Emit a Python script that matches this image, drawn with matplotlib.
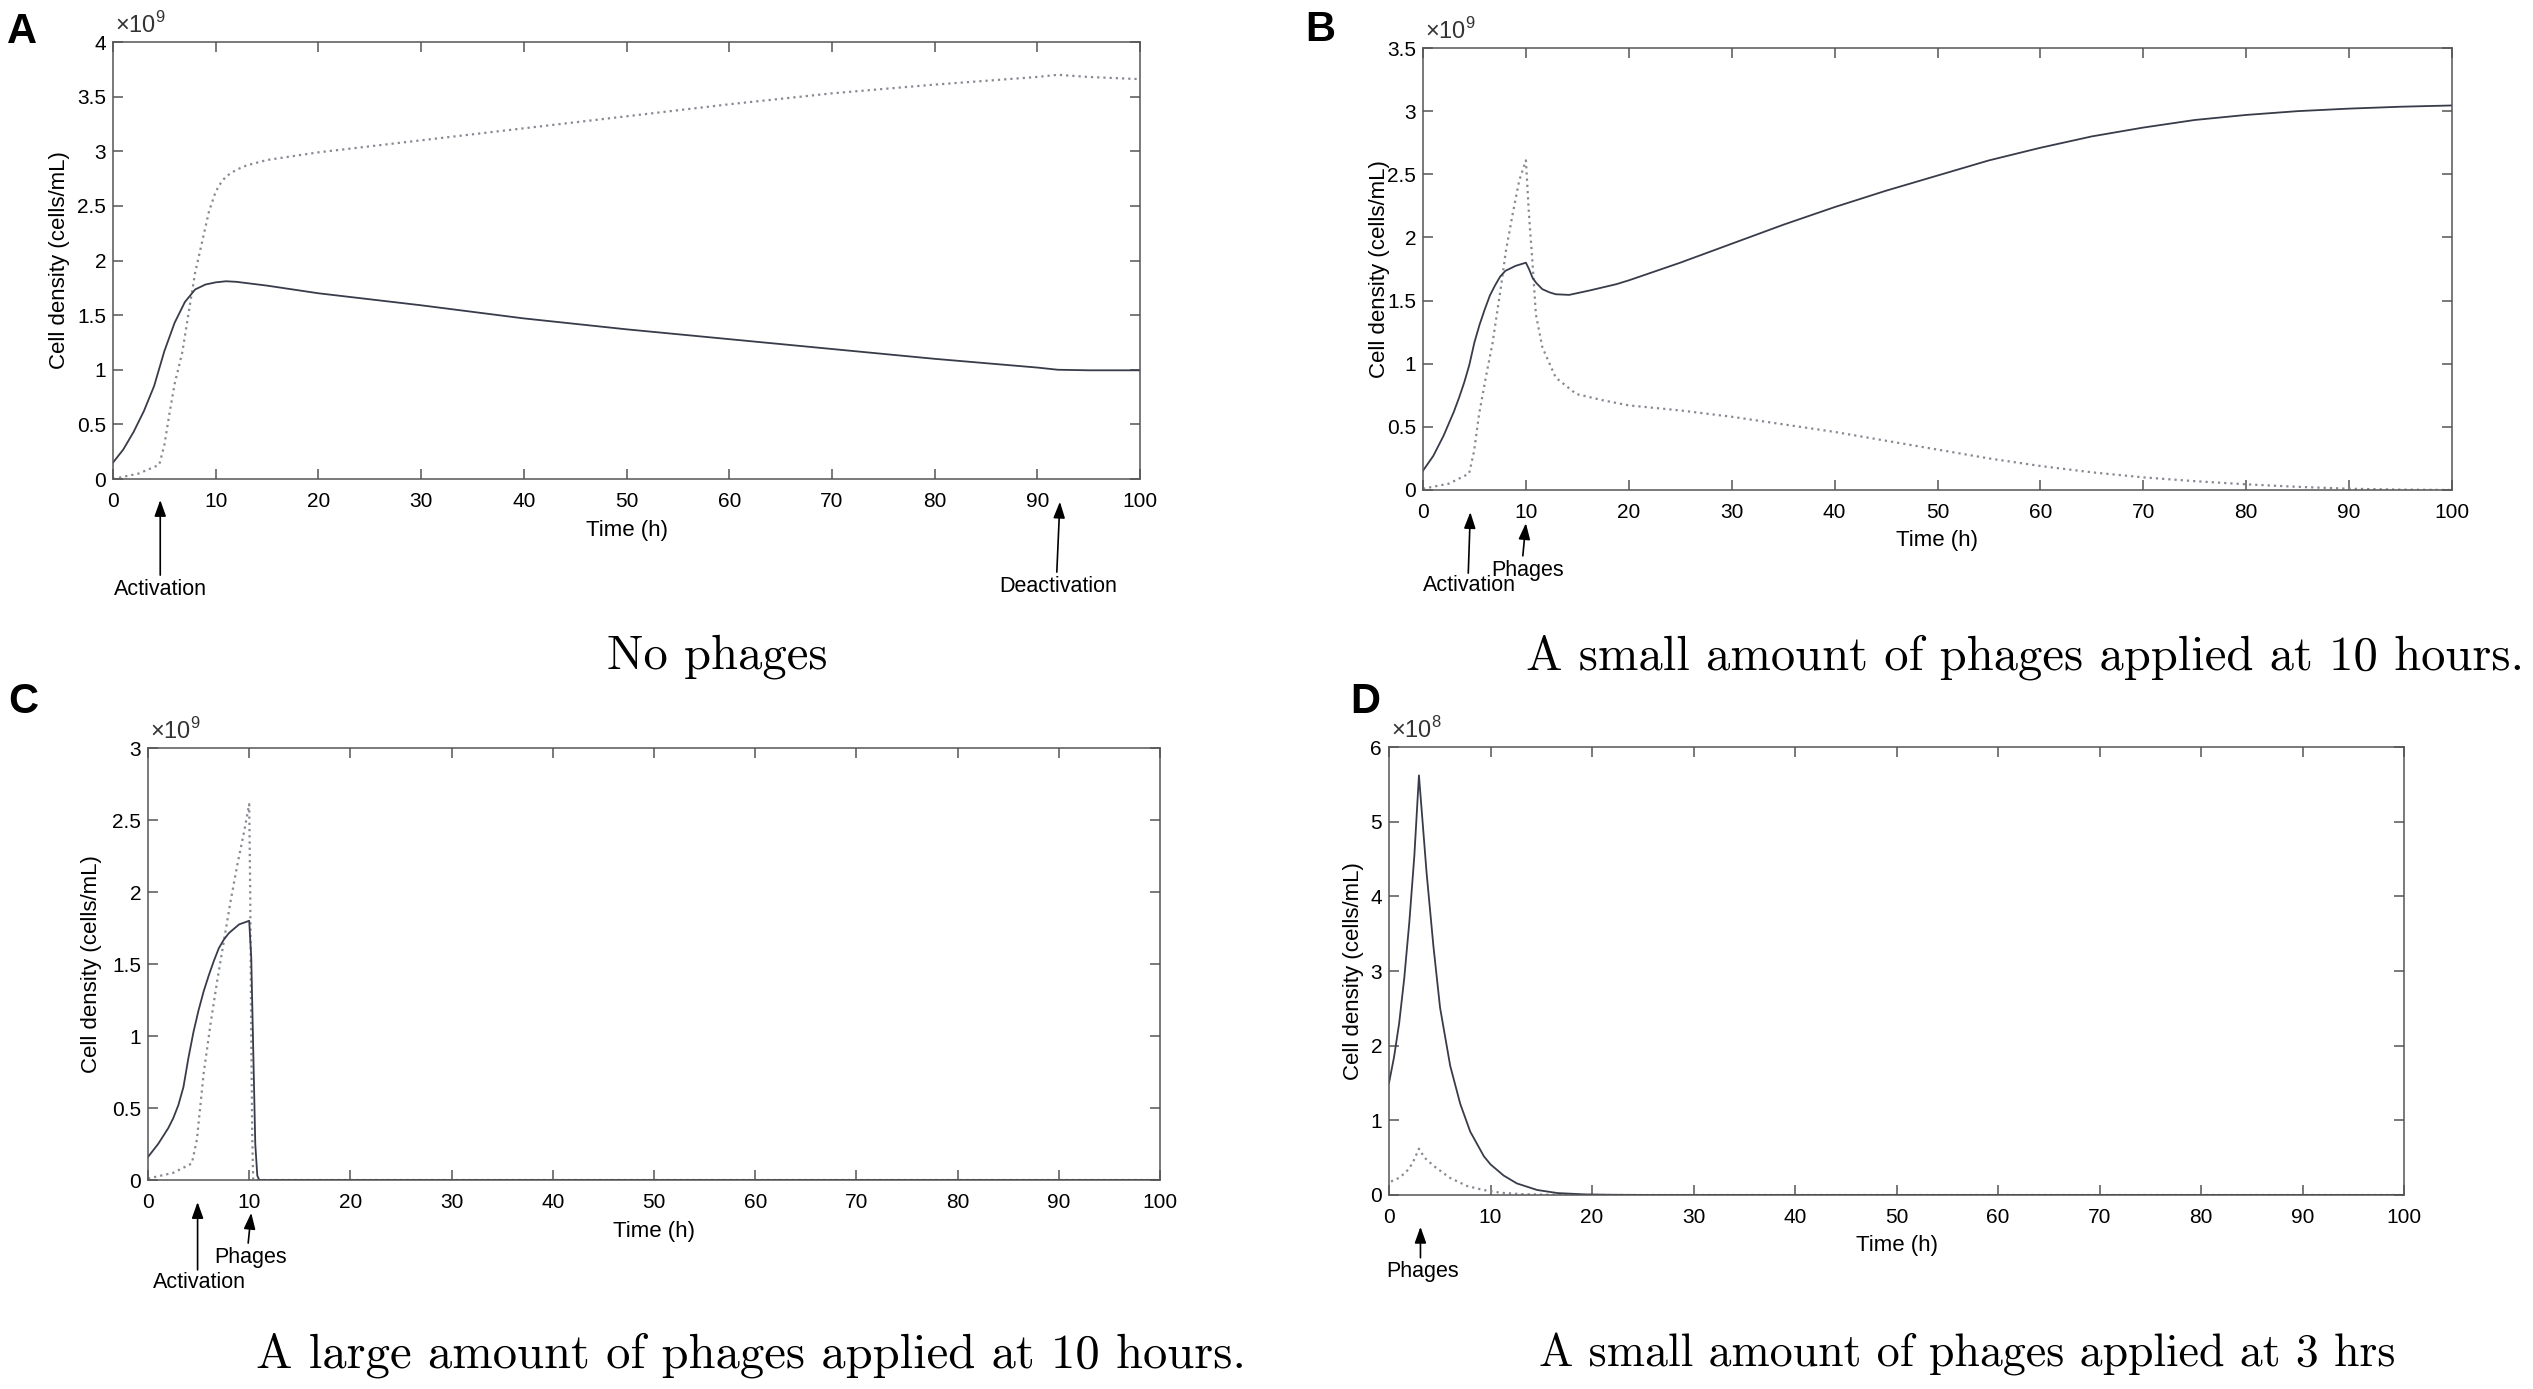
import matplotlib
matplotlib.use('Agg')
import matplotlib.pyplot as plt
from matplotlib.ticker import FuncFormatter, MultipleLocator

plt.rcParams['font.family'] = ['Liberation Sans', 'DejaVu Sans']
plt.rcParams['mathtext.fontset'] = 'custom'
plt.rcParams['mathtext.rm'] = 'Liberation Sans'

W, H = 2533, 1389

# ---- data (cell densities, A-C in 1e9 cells/mL, D in 1e8 cells/mL) ----
tA_solid = [0, 1, 2, 3, 4, 5, 6, 7, 8, 9, 10, 11, 12, 15, 20, 30, 40, 50, 60, 70, 80, 85, 90, 92, 95, 100]
A_solid = [0.15, 0.27, 0.43, 0.62, 0.85, 1.17, 1.43, 1.62, 1.735, 1.78, 1.80, 1.81, 1.805, 1.77, 1.70,
           1.59, 1.47, 1.37, 1.28, 1.19, 1.10, 1.06, 1.02, 1.00, 0.995, 0.995]
tA_dot = [0, 2.5, 4.5, 5, 5.5, 6, 6.75, 7.5, 8, 8.7, 9.35, 10, 10.5, 11, 12, 13, 15, 20, 30, 40, 50,
          60, 70, 80, 90, 92, 95, 100]
A_dot = [0, 0.05, 0.13, 0.31, 0.6, 0.87, 1.16, 1.6, 1.89, 2.18, 2.45, 2.63, 2.71, 2.77, 2.83, 2.87,
         2.92, 2.99, 3.10, 3.21, 3.32, 3.43, 3.53, 3.61, 3.68, 3.70, 3.68, 3.66]

tB_solid = [0, 1, 2, 3, 3.5, 4, 4.5, 5, 5.5, 6, 6.5, 7, 7.5, 8, 9, 10, 10.3, 10.65, 11, 11.6, 12.3, 12.9,
            14.2, 16.2, 18.8, 20, 25, 30, 35, 40, 45, 50, 55, 60, 65, 70, 75, 80, 85, 90, 95, 100]
B_solid = [0.153, 0.27, 0.43, 0.62, 0.73, 0.85, 0.99, 1.17, 1.31, 1.43, 1.54, 1.62, 1.69, 1.735, 1.775,
           1.80, 1.75, 1.68, 1.64, 1.59, 1.565, 1.55, 1.545, 1.58, 1.63, 1.66, 1.80, 1.95, 2.10, 2.24,
           2.37, 2.49, 2.61, 2.71, 2.80, 2.87, 2.93, 2.97, 3.00, 3.02, 3.035, 3.045]
tB_dot = [0, 2.5, 4.48, 4.97, 5.45, 6.1, 6.75, 7.56, 8.05, 8.7, 9.35, 10, 10.3, 10.65, 10.97, 11.6,
          12.9, 14.9, 17.5, 20, 25, 30, 35, 40, 45, 50, 55, 60, 65, 70, 75, 80, 85, 90, 95, 100]
B_dot = [0.01, 0.05, 0.13, 0.31, 0.6, 0.89, 1.16, 1.6, 1.89, 2.18, 2.45, 2.61, 2.18, 1.79, 1.39, 1.13,
         0.89, 0.76, 0.71, 0.67, 0.63, 0.58, 0.52, 0.46, 0.39, 0.32, 0.25, 0.19, 0.14, 0.10, 0.07,
         0.045, 0.025, 0.01, 0.003, 0.0]

tC_solid = [0, 1, 2, 2.5, 3, 3.5, 4, 4.5, 5, 5.5, 6, 6.5, 7, 7.5, 8, 9, 10, 10.2, 10.4, 10.6, 10.8, 11, 100]
C_solid = [0.16, 0.25, 0.36, 0.43, 0.52, 0.645, 0.85, 1.03, 1.18, 1.31, 1.42, 1.52, 1.61, 1.67, 1.715,
           1.775, 1.80, 1.55, 0.9, 0.25, 0.03, 0.0, 0.0]
tC_dot = [0, 2.5, 4.33, 4.83, 5.5, 6.17, 6.83, 7.5, 8.17, 8.83, 9.5, 10, 10.1, 10.2, 10.3, 10.4, 100]
C_dot = [0.01, 0.05, 0.115, 0.28, 0.74, 1.08, 1.38, 1.66, 1.94, 2.19, 2.42, 2.61, 2.0, 1.0, 0.3, 0.0, 0.0]

tD_solid = [0, 0.5, 1, 1.5, 2, 2.5, 2.95, 3.7, 4.37, 5.03, 6.03, 7.02, 8, 9.34, 10, 11.3, 12.6, 14.6,
            16.6, 19.3, 22, 25, 30, 100]
D_solid = [1.5, 1.85, 2.3, 2.9, 3.65, 4.55, 5.62, 4.32, 3.34, 2.51, 1.73, 1.22, 0.85, 0.52, 0.41, 0.26,
           0.155, 0.067, 0.026, 0.008, 0.003, 0.001, 0.0, 0.0]
tD_dot = [0.2, 0.5, 1, 1.7, 2.3, 2.95, 3.5, 4.4, 6, 7.7, 9.3, 11, 13, 16, 20, 100]
D_dot = [0.18, 0.2, 0.23, 0.31, 0.42, 0.62, 0.5, 0.39, 0.23, 0.12, 0.067, 0.03, 0.012, 0.003, 0.0, 0.0]

panels = [
    # letter, axes box (px: left, top, right, bottom), ymax, exponent, series, ylabel offset px
    ('A', (113, 42, 1140, 479), 4, 9, (tA_solid, A_solid), (tA_dot, A_dot), -53),
    ('B', (1423, 48, 2452, 490), 3.5, 9, (tB_solid, B_solid), (tB_dot, B_dot), -44),
    ('C', (148, 748, 1160, 1180), 3, 9, (tC_solid, C_solid), (tC_dot, C_dot), -56),
    ('D', (1389, 747, 2404, 1195), 6, 8, (tD_solid, D_solid), (tD_dot, D_dot), -35),
]
letter_pos = {'A': (7, 12), 'B': (1305, 10), 'C': (8, 682), 'D': (1350, 682)}

# arrows: (x_head, y_head, x_tail, y_tail) in (data x, axes fraction y); labels (x, y, text)
arrows = {
    'A': [(4.6, -0.048, 4.6, -0.22), (92.2, -0.052, 91.9, -0.213)],
    'B': [(4.6, -0.05, 4.4, -0.188), (10.0, -0.075, 9.7, -0.149)],
    'C': [(4.9, -0.051, 4.9, -0.208), (10.2, -0.076, 9.9, -0.146)],
    'D': [(3.1, -0.071, 3.1, -0.14)],
}
arrow_labels = {
    'A': [(4.6, -0.254, 'Activation'), (92.0, -0.247, 'Deactivation')],
    'B': [(4.5, -0.217, 'Activation'), (10.2, -0.181, 'Phages')],
    'C': [(5.1, -0.238, 'Activation'), (10.1, -0.18, 'Phages')],
    'D': [(3.3, -0.17, 'Phages')],
}
captions = [
    (717, 657, 'No phages'),
    (2025, 657, 'A small amount of phages applied at 10 hours.'),
    (751, 1355, 'A large amount of phages applied at 10 hours.'),
    (1967, 1355, 'A small amount of phages applied at 3 hrs'),
]
caption_sizes = [35, 35, 35, 33]

solid_color = '#383b4a'
dot_color = '#878a92'
spine_color = '#555555'

fig = plt.figure(figsize=(W / 100, H / 100), dpi=100)

for letter, (l, t, r, b), ymax, expo, solid, dot, ylab_off in panels:
    ax = fig.add_axes([l / W, 1 - b / H, (r - l) / W, (b - t) / H])
    ax.plot(dot[0], dot[1], color=dot_color, lw=1.6, linestyle=(0, (1, 1.8)))
    ax.plot(solid[0], solid[1], color=solid_color, lw=1.3)
    ax.set_xlim(0, 100)
    ax.set_ylim(0, ymax)
    ax.xaxis.set_major_locator(MultipleLocator(10))
    ax.yaxis.set_major_locator(MultipleLocator(0.5 if ymax < 5 else 1))
    ax.yaxis.set_major_formatter(FuncFormatter(lambda v, p: f'{v:g}'))
    ax.tick_params(direction='in', top=True, right=True, length=7, width=1.1, color=spine_color)
    ax.tick_params(axis='x', labelsize=15, pad=9.5)
    ax.tick_params(axis='y', labelsize=15, pad=5)
    for s in ax.spines.values():
        s.set_color(spine_color)
        s.set_linewidth(1.1)
    ax.set_xlabel('Time (h)', fontsize=16)
    ax.set_ylabel('Cell density (cells/mL)', fontsize=16)
    hpx = b - t
    wpx = r - l
    ax.xaxis.set_label_coords(0.5, -51 / hpx)
    ax.xaxis.label.set_va('center')
    ax.yaxis.set_label_coords(ylab_off / wpx, 0.5)
    ax.yaxis.label.set_va('center')
    ax.text(0.002, 1.01, r'$\times10^{%d}$' % expo, transform=ax.transAxes, fontsize=17,
            ha='left', va='bottom', color='#333333')

    tr = ax.get_xaxis_transform()
    for xh, yh, xt, yt in arrows[letter]:
        ax.annotate('', xy=(xh, yh), xycoords=tr, xytext=(xt, yt), textcoords=tr,
                    arrowprops=dict(arrowstyle='-|>,head_length=0.7,head_width=0.25',
                                    color='black', lw=1.2, mutation_scale=14,
                                    shrinkA=0, shrinkB=0),
                    annotation_clip=False)
    for xl, yl, txt in arrow_labels[letter]:
        ax.text(xl, yl, txt, transform=tr, ha='center', va='center', fontsize=15.5,
                clip_on=False)

    lx, ly = letter_pos[letter]
    fig.text(lx / W, 1 - ly / H, letter, fontsize=30, fontweight='bold', ha='left', va='top')

for (cx, cy, txt), fs in zip(captions, caption_sizes):
    fig.text(cx / W, 1 - cy / H, txt, family='cmr10', fontsize=fs, ha='center', va='center')

fig.savefig('out.png', dpi=100)
